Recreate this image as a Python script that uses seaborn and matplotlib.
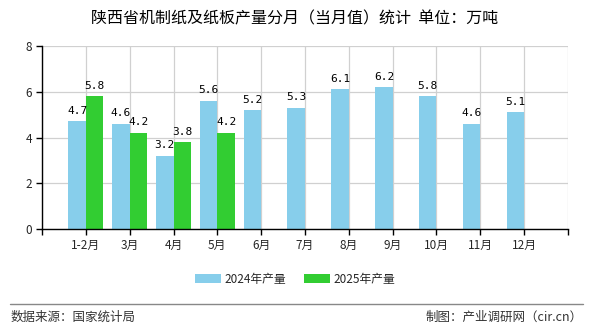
import matplotlib
matplotlib.use("Agg")
import matplotlib.pyplot as plt
import seaborn as sns
import pandas as pd

months = ["1-2月", "3月", "4月", "5月", "6月", "7月", "8月", "9月", "10月", "11月", "12月"]
values_2024 = [4.7, 4.6, 3.2, 5.6, 5.2, 5.3, 6.1, 6.2, 5.8, 4.6, 5.1]
values_2025 = [5.8, 4.2, 3.8, 4.2]
series_names = ["2024年产量", "2025年产量"]
colors = ["#87CEEB", "#32CD32"]

rows = []
for m, v in zip(months, values_2024):
    rows.append({"月份": m, "系列": series_names[0], "产量": v})
for m, v in zip(months[:len(values_2025)], values_2025):
    rows.append({"月份": m, "系列": series_names[1], "产量": v})
df = pd.DataFrame(rows)

sns.set_theme(style="white")
plt.rcParams["font.family"] = ["Noto Sans CJK SC", "DejaVu Sans"]
plt.rcParams["axes.unicode_minus"] = False

fig = plt.figure(figsize=(5.9, 3.3), dpi=100)
ax = fig.add_axes([0.0712, 0.306, 0.8915, 0.5546])

sns.barplot(data=df, x="月份", y="产量", hue="系列", order=months,
            hue_order=series_names, palette=colors, width=0.8,
            saturation=1, ax=ax, errorbar=None, legend=True, linewidth=0)

for c in ax.containers:
    ax.bar_label(c, fmt="%.1f", padding=4, fontsize=8, color="#000000",
                 family="DejaVu Sans Mono")

ax.set_xlim(-1, len(months))
ax.set_ylim(0, 8)
ax.set_xticks(range(-1, len(months) + 1))
ax.set_xticklabels([""] + months + [""], fontsize=8.5)
ax.set_yticks([0, 2, 4, 6, 8])
ax.set_yticklabels(["0", "2", "4", "6", "8"], fontsize=8.5)
ax.set_xlabel("")
ax.set_ylabel("")
ax.grid(True, color="#d0d0d0", linewidth=0.9)
ax.set_axisbelow(True)
for s in ["top", "right"]:
    ax.spines[s].set_visible(False)
for s in ["left", "bottom"]:
    ax.spines[s].set_color("#000000")
    ax.spines[s].set_linewidth(1.0)
ax.tick_params(axis="both", direction="out", length=4, width=1, color="#000000",
               bottom=True, left=True, pad=3)

handles, labels = ax.get_legend_handles_labels()
ax.legend_.remove()
fig.legend(handles, labels, loc="center", bbox_to_anchor=(0.5, 1 - 279 / 330), ncol=2,
           frameon=False, fontsize=8.5, handlelength=2.2, handleheight=0.7,
           columnspacing=1.5, handletextpad=0.3)

fig.text(0.5, 1 - 19 / 330, "陕西省机制纸及纸板产量分月（当月值）统计  单位：万吨",
         ha="center", va="center", fontsize=11.5, color="#000000")
fig.add_artist(plt.Line2D([0.017, 0.988], [1 - 304 / 330, 1 - 304 / 330],
                          transform=fig.transFigure, color="#888888", linewidth=1))
fig.text(0.017, 1 - 317 / 330, "数据来源：国家统计局", ha="left", va="center",
         fontsize=9, color="#333333")
fig.text(0.988, 1 - 317 / 330, "制图：产业调研网（cir.cn）", ha="right", va="center",
         fontsize=9, color="#333333")

fig.savefig("out.png", dpi=100)
